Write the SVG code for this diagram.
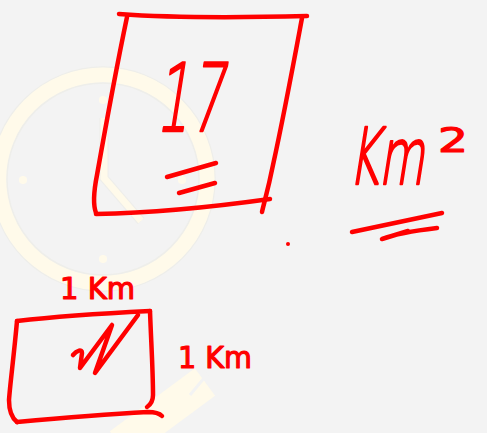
<svg xmlns="http://www.w3.org/2000/svg" width="487" height="433" viewBox="0 0 487 433">
<style>
.ink{fill:none;stroke:#ff0000;stroke-width:4.5;stroke-linecap:round;stroke-linejoin:round}
.hand{fill:#ff0000;stroke:#ff0000;stroke-width:2.6;stroke-linejoin:round;font-family:"DejaVu Sans","Liberation Sans",sans-serif;font-weight:200}
.label{fill:#ff0000;stroke:#ff0000;stroke-width:1.2;stroke-linejoin:round;font-family:"DejaVu Sans","Liberation Sans",sans-serif}
.wm{fill:none;stroke:#fffaea;stroke-linecap:butt}
.wmo{fill:none;stroke:#eeeeea;stroke-width:1.5}
</style>
<rect width="487" height="433" fill="#f3f3f3"/>
<g id="watermark">
<circle cx="103" cy="179" r="112" class="wmo"/>
<circle cx="103" cy="179" r="104" class="wm" stroke-width="15"/>
<circle cx="103" cy="179" r="96" class="wmo"/>
<circle cx="103" cy="100" r="4" fill="#fffaea"/>
<circle cx="23" cy="180" r="4" fill="#fffaea"/>
<circle cx="182" cy="180" r="4" fill="#fffaea"/>
<circle cx="103" cy="259" r="4" fill="#fffaea"/>
<path d="M104 118 V178 L141 221" fill="none" stroke="#eeeeea" stroke-width="9" stroke-linejoin="miter"/>
<path d="M104 118 V178 L141 221" fill="none" stroke="#fffaea" stroke-width="7" stroke-linejoin="miter"/>
<path d="M205 382 L120 445" class="wm" stroke-width="34"/>
<path d="M215 365 L190 395" stroke="#f3f3f3" stroke-width="3"/>
</g>
<g id="area-box">
<path class="ink" d="M119 14 C160 17 230 18 307 16"/>
<path class="ink" d="M302 18 C296 50 285 110 273 165 C268 190 264 203 262 212"/>
<path class="ink" d="M127 17 C118 60 105 130 97 175 C94 190 93 205 96 213"/>
<path class="ink" d="M96 214 C150 213 220 206 270 199"/>
<text class="hand" transform="translate(155 131) skewX(-9)" x="0" y="0" font-size="94" textLength="68" lengthAdjust="spacingAndGlyphs">17</text>
<path class="ink" d="M167 177 L216 163"/>
<path class="ink" d="M179 193 L215 183"/>
</g>
<g id="area-unit">
<text class="hand" transform="translate(348 184) skewX(-9)" x="0" y="0" font-size="78" textLength="76" lengthAdjust="spacingAndGlyphs">Km</text>
<text class="label" x="438" y="152" font-size="34" textLength="30" lengthAdjust="spacingAndGlyphs">2</text>
<path class="ink" d="M352 232 L442 213"/>
<path class="ink" d="M408 231 L382 239 C395 234 420 230 437 228"/>
</g>
<circle id="dot" cx="288" cy="244" r="2" fill="#ff0000"/>
<g id="unit-square">
<text class="label" x="60" y="299" font-size="30" textLength="75" lengthAdjust="spacingAndGlyphs">1 Km</text>
<path class="ink" d="M17 321 C60 316 110 313 150 311"/>
<path class="ink" d="M17 321 C14 355 10 385 9 400 C9 410 12 418 17 422"/>
<path class="ink" d="M17 422 C60 418 110 414 148 412 C155 412 160 414 162 416"/>
<path class="ink" d="M150 311 C151 340 153 370 153 395 C153 401 150 405 147 407"/>
<path class="ink" d="M73 355 C77 350 82 349 82 353 L80 368 L112 325 L95 373 L138 315"/>
<text class="label" x="178" y="368" font-size="30" textLength="74" lengthAdjust="spacingAndGlyphs">1 Km</text>
</g>
</svg>
